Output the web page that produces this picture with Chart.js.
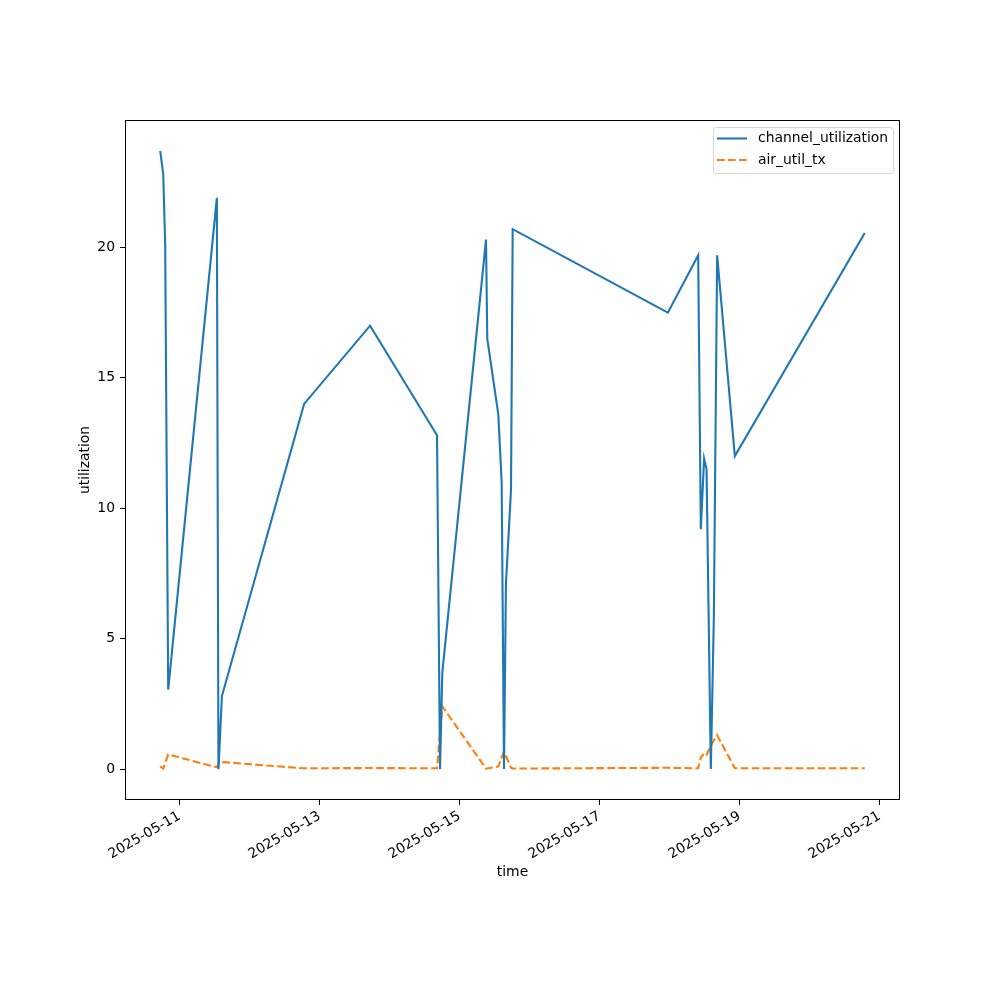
<!DOCTYPE html>
<html>
<head>
<meta charset="utf-8">
<script src="https://cdn.jsdelivr.net/npm/chart.js@4/dist/chart.umd.min.js"></script>
<style>
  body { margin: 0; background: #fff; }
</style>
</head>
<body>
<canvas id="myChart" width="1000" height="1000"></canvas>
<script>
// Sample times (UTC)
const times = [
  '2025-05-10T17:21', '2025-05-10T18:23', '2025-05-10T19:03', '2025-05-10T20:05',
  '2025-05-11T12:46', '2025-05-11T13:19', '2025-05-11T14:30', '2025-05-12T18:41',
  '2025-05-13T17:18', '2025-05-14T16:15', '2025-05-14T17:17', '2025-05-14T18:04',
  '2025-05-15T09:03', '2025-05-15T09:29', '2025-05-15T13:16', '2025-05-15T14:25',
  '2025-05-15T15:13', '2025-05-15T15:53', '2025-05-15T17:37', '2025-05-15T18:12',
  '2025-05-17T23:24', '2025-05-18T09:48', '2025-05-18T10:42', '2025-05-18T11:50',
  '2025-05-18T12:40', '2025-05-18T14:08', '2025-05-18T15:10', '2025-05-18T16:18',
  '2025-05-18T22:22', '2025-05-20T18:55'
];

const channelUtil = [
  23.7, 22.8, 20.1, 3.05,
  21.9, 0.0, 2.8, 14.0,
  17.0, 12.8, 0.0, 3.7,
  20.3, 16.5, 13.6, 11.0,
  0.0, 7.1, 10.7, 20.7,
  17.5, 19.7, 9.2, 11.9,
  11.5, 0.0, 5.8, 19.7,
  12.0, 20.55
];

const airUtilTx = [
  0.1, 0.02, 0.23, 0.56,
  0.07, 0.2, 0.27, 0.03,
  0.04, 0.03, 1.4, 2.4,
  0.02, 0.02, 0.1, 0.45,
  0.66, 0.5, 0.05, 0.02,
  0.05, 0.03, 0.45, 0.6,
  0.54, 0.9, 1.1, 1.3,
  0.03, 0.03
];

const xTickDates = ['2025-05-11', '2025-05-13', '2025-05-15', '2025-05-17', '2025-05-19', '2025-05-21'];
const yTicks = [0, 5, 10, 15, 20];

const seriesNames = ['channel_utilization', 'air_util_tx'];
const seriesColors = ['#1f77b4', '#ff7f0e'];
const dashed = [7.7, 3.3];

function toMs(t) {
  return Date.parse(t + ':00Z');
}

const xs = times.map(toMs);

// matplotlib style 5% margins
const xMin = Math.min(...xs), xMax = Math.max(...xs);
const allY = channelUtil.concat(airUtilTx);
const yMin = Math.min(...allY), yMax = Math.max(...allY);
const xPad = (xMax - xMin) * 0.05;
const yPad = (yMax - yMin) * 0.05;

Chart.defaults.font.family = "'DejaVu Sans', sans-serif";
Chart.defaults.font.size = 13.9;
Chart.defaults.color = '#000';

// box around the axes plus the legend in the upper right
const framePlugin = {
  id: 'frame',
  afterDraw(chart) {
    const ctx = chart.ctx;
    const a = chart.chartArea;
    ctx.save();
    ctx.strokeStyle = '#000';
    ctx.lineWidth = 1;
    ctx.strokeRect(Math.round(a.left) + 0.5, Math.round(a.top) + 0.5,
      Math.round(a.right - a.left) - 1, Math.round(a.bottom - a.top) - 1);

    const lw = 180, lh = 46;
    const lx = a.right - 7 - lw, ly = a.top + 7;
    ctx.beginPath();
    ctx.roundRect(lx + 0.5, ly + 0.5, lw, lh, 3);
    ctx.fillStyle = 'rgba(255,255,255,0.8)';
    ctx.fill();
    ctx.strokeStyle = 'rgba(204,204,204,0.8)';
    ctx.stroke();

    ctx.font = "13.9px 'DejaVu Sans', sans-serif";
    ctx.textBaseline = 'middle';
    ctx.textAlign = 'left';
    seriesNames.forEach((name, i) => {
      const yy = ly + 11.5 + i * 21.5;
      ctx.beginPath();
      ctx.strokeStyle = seriesColors[i];
      ctx.lineWidth = 2.1;
      ctx.setLineDash(i === 1 ? dashed : []);
      ctx.moveTo(lx + 4, yy);
      ctx.lineTo(lx + 34, yy);
      ctx.stroke();
      ctx.setLineDash([]);
      ctx.fillStyle = '#000';
      ctx.fillText(name, lx + 45, yy);
    });
    ctx.restore();
  }
};

const ctx = document.getElementById('myChart').getContext('2d');
const chart = new Chart(ctx, {
  type: 'line',
  data: {
    datasets: [
      {
        label: seriesNames[0],
        data: xs.map((x, i) => ({ x: x, y: channelUtil[i] })),
        borderColor: seriesColors[0],
        borderWidth: 2.1,
        pointRadius: 0,
        tension: 0,
        fill: false
      },
      {
        label: seriesNames[1],
        data: xs.map((x, i) => ({ x: x, y: airUtilTx[i] })),
        borderColor: seriesColors[1],
        borderWidth: 2.1,
        borderDash: dashed,
        pointRadius: 0,
        tension: 0,
        fill: false
      }
    ]
  },
  options: {
    responsive: false,
    animation: false,
    layout: {
      padding: { left: 73, top: 120, right: 100, bottom: 115 }
    },
    plugins: {
      legend: { display: false },
      tooltip: { enabled: false }
    },
    scales: {
      x: {
        type: 'linear',
        min: xMin - xPad,
        max: xMax + xPad,
        afterFit: (scale) => { scale.height = 85; },
        afterBuildTicks: (scale) => {
          scale.ticks = xTickDates.map(d => ({ value: Date.parse(d + 'T00:00:00Z') }));
        },
        ticks: {
          autoSkip: false,
          minRotation: 30,
          maxRotation: 30,
          padding: 3,
          callback: (v) => new Date(v).toISOString().slice(0, 10)
        },
        grid: {
          display: true,
          drawOnChartArea: false,
          drawTicks: true,
          tickLength: 5,
          color: '#000',
          lineWidth: 1
        },
        border: { display: false },
        title: { display: true, text: 'time' }
      },
      y: {
        type: 'linear',
        min: yMin - yPad,
        max: yMax + yPad,
        afterFit: (scale) => { scale.width = 52; },
        afterBuildTicks: (scale) => {
          scale.ticks = yTicks.map(v => ({ value: v }));
        },
        ticks: {
          padding: 5,
          callback: (v) => String(v)
        },
        grid: {
          display: true,
          drawOnChartArea: false,
          drawTicks: true,
          tickLength: 5,
          color: '#000',
          lineWidth: 1
        },
        border: { display: false },
        title: { display: true, text: 'utilization' }
      }
    }
  },
  plugins: [framePlugin]
});
</script>
</body>
</html>
